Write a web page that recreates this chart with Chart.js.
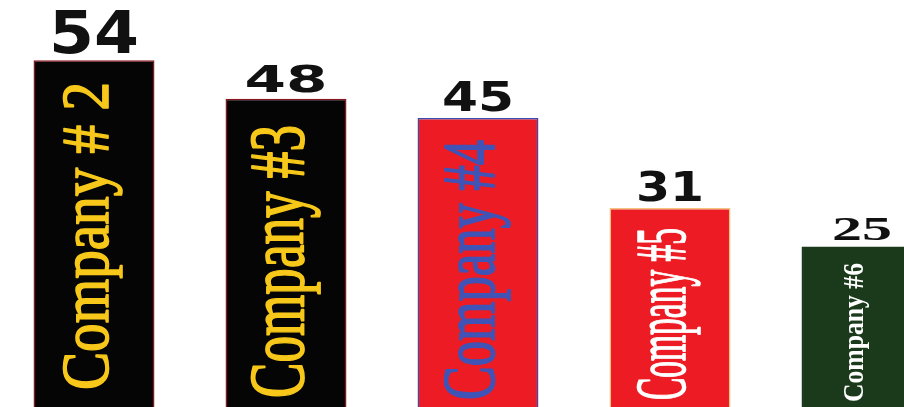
<!DOCTYPE html>
<html>
<head>
<meta charset="utf-8">
<script src="https://cdn.jsdelivr.net/npm/chart.js@4/dist/chart.umd.min.js"></script>
<style>
html,body{margin:0;padding:0;background:#fff;overflow:hidden;width:904px;height:407px}
#wrap{width:960px;height:407px;position:relative;margin-left:-2px}
</style>
</head>
<body>
<div id="wrap"><canvas id="c"></canvas></div>
<script>
// ---- data ----
const categories = ['Company # 2', 'Company #3', 'Company #4', 'Company #5', 'Company #6'];
const values = [54, 48, 45, 31, 25];
const valueLabels = ['54', '48', '45', '31', '25'];

// ---- styles ----
const barColors = ['#050505', '#050505', '#ED1C24', '#ED1C24', '#1B3A1B'];
const borderColors = ['#8A1622', '#8A1622', '#3B4DB3', '#F3C27C', '#1B3A1B'];
const nameColors = ['#F7C81A', '#F7C81A', '#3F54B6', '#FFFFFF', '#FFFFFF'];
const nameFonts = ['68px "Liberation Serif"', '79px "Liberation Serif"', '74px "Liberation Serif"', '72px "Liberation Serif"', 'bold 30px "Liberation Serif"'];
const nameStroke = [1.6, 1.8, 1.8, 1.6, 0];
const nameCaps = [45, 52, 49, 48, 20];
const nameLens = [308, 273, 260, 172, 139];
const nameBottomGap = [17, 9, 7, 7, 5];
const valueFonts = ['bold 58px "DejaVu Sans"', 'bold 37px "DejaVu Sans"', 'bold 40px "DejaVu Sans"', 'bold 41px "DejaVu Sans"', 'bold 34px "Liberation Serif"'];
const valueWidths = [90, 83, 72, 68, 60];

const labelPlugin = {
  id: 'labels',
  afterDatasetsDraw(chart) {
    const ctx = chart.ctx;
    const meta = chart.getDatasetMeta(0);
    meta.data.forEach((el, i) => {
      const x = el.x, top = el.y, base = el.base;
      // company name, rotated
      ctx.save();
      ctx.font = nameFonts[i];
      ctx.fillStyle = nameColors[i];
      ctx.strokeStyle = nameColors[i];
      ctx.textAlign = 'left';
      ctx.textBaseline = 'alphabetic';
      const w = ctx.measureText(categories[i]).width;
      ctx.translate(x - 9 + nameCaps[i] / 2, base - nameBottomGap[i]);
      ctx.rotate(-Math.PI / 2);
      ctx.scale(nameLens[i] / w, 1);
      ctx.fillText(categories[i], 0, 0);
      if (nameStroke[i] > 0) {
        ctx.lineWidth = nameStroke[i];
        ctx.lineJoin = 'round';
        ctx.strokeText(categories[i], 0, 0);
      }
      ctx.restore();
      // value label
      ctx.save();
      ctx.font = valueFonts[i];
      ctx.fillStyle = '#111';
      ctx.textAlign = 'center';
      ctx.textBaseline = 'alphabetic';
      const vw = ctx.measureText(valueLabels[i]).width;
      ctx.translate(x, top - 7);
      ctx.scale(valueWidths[i] / vw, 1);
      ctx.fillText(valueLabels[i], 0, 0);
      ctx.restore();
    });
  }
};

new Chart(document.getElementById('c'), {
  type: 'bar',
  data: {
    labels: categories,
    datasets: [{
      data: values,
      backgroundColor: barColors,
      borderColor: borderColors,
      borderWidth: 1.5,
      borderSkipped: 'bottom',
      categoryPercentage: 1,
      barPercentage: 0.63
    }]
  },
  options: {
    responsive: true,
    maintainAspectRatio: false,
    animation: false,
    layout: { padding: 0 },
    plugins: { legend: { display: false }, tooltip: { enabled: false } },
    scales: {
      x: { display: false },
      y: { display: false, min: 0, max: 63.4 }
    }
  },
  plugins: [labelPlugin]
});
</script>
</body>
</html>
